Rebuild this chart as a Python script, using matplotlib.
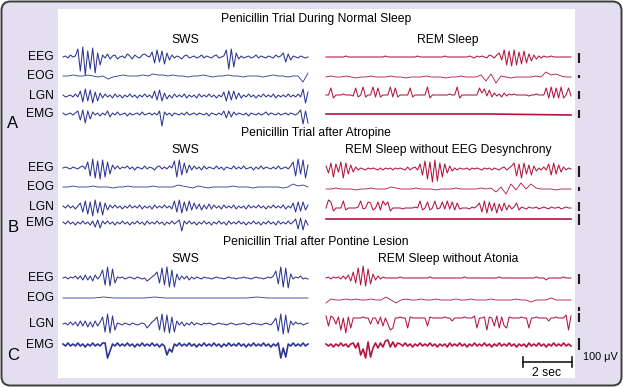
"""
Penicillin trial traces (SWS vs REM) redrawn as a figure.
Each trace is a list of deflections (px, + is up), evenly spread over 10 s.
"""

import numpy as np
import matplotlib.pyplot as plt
from matplotlib.patches import FancyBboxPatch, Rectangle

plt.rcParams["font.family"] = ["Liberation Sans", "DejaVu Sans"]

# ------------------------------
# Trace data
# ------------------------------
channels = ["EEG", "EOG", "LGN", "EMG"]
panel_letters = ["A", "B", "C"]
panel_titles = ["Penicillin Trial During Normal Sleep",
                "Penicillin Trial after Atropine",
                "Penicillin Trial after Pontine Lesion"]
left_titles = ["SWS", "SWS", "SWS"]
right_titles = ["REM Sleep", "REM Sleep without EEG Desynchrony",
                "REM Sleep without Atonia"]

# --- A: normal sleep ---
a_sws_eeg = [0, 1, -1, 2, 0, 1,
             8, -14, 10, -18, 6, -12, 9, -16, 4, -8,
             2, -1, 3, -2, 1, 2, -2, 0, 1, -1, 3, 1, -2, 2, 0, -1, 2, 3, 1, 0,
             5, -6, 7, -5, 6, -7, 4, -3,
             2, -1, 1, 0, -2, 1, 2, -1, 0, 1, -1, 0, 2, -1, 1, 0, -1, 1, 2, -1, 0, 1,
             7, -12, 8, -10, 4,
             -2, 1, -1, 0, 1, -1, 0, 2, -1, 1, 0, -1, 1, 0, -1, 2, 0, 1,
             4, -5, 3, -3,
             1, 0, -1, 1, 0, -1, 0]
a_sws_eog = [0, 0, 1, 0, 0, 1, 0, -1, 0,
             -3, -1,
             0, 1, 0, 0, 0, 1, 0, 2,
             1, 1, 0, 1, 0, 0, -1, 0, 0, 1, 0, -1, 0, 0, 1, 0, 0, -1, 0, 0, 0, -1,
             0, 1, 0, 0, -1, 0, 0,
             -6, 3]
a_sws_lgn = [1, -1, 0, 1, -1, 2, -1,
             5, -6, 7, -5, 6, -7, 4, -5, 3,
             -2, 2, -1, 1, -2, 2, -1, 1, -2, 1, -1, 2, -1, 1, -2, 1, -1, 2, -1, 1, -2,
             5, -4, 6, -5, 3, -3,
             1, -2, 2, -1, 1, -1, 2, -2, 1, -1, 1, -2, 2, -1, 1, -1, 2, -1, 1, -2, 1, -1,
             4, -5, 5, -4, 5, -3, 3, -2,
             1, -1, 2, -1, 1, -2, 1, -1, 2, -1, 1, -1, 2, -2, 1, -1, 1, -1, 2, -1, 1, -1, 2, -1,
             7, -7, 4]
a_sws_emg = [1, -1, 0, 1, -1, 1,
             3, -6, 4, -9, 3, -5, 2,
             -1, 1, -2, 1, -1,
             3, -3,
             1, -1, 2, -1, 0, 1, -2, 1, -1, 0, 1, -1, 2, -1, 0, 1, -1, 1, -1,
             3, -12, 2,
             -1, 1, -2, 1, 0, -1, 1, -1, 2, -1, 0, 1, -1, 1, 0, -1, 1, -2, 1, 0, -1, 1, -1,
             3, -4, 3, -3, 2,
             -1, 1, 0, -1, 1, -2, 1, 0, -1, 1, -1, 0, 2, -1, 1, 0, -1, 1, -1, 0, 1, -1, 1, 0, -1, 1,
             4, -10, 3, -9]

a_rem_eeg = [0, 0, 0, 0, 0, 0, 0, 0, 1, 0, 0, 0, 0, 0, 0, 0, 0, 0, 0, 0,
             0, 0, 0, 0, 1, 0, 0, 0, 0, 0, 0, 0, 0, 0, 0, 0, 0, 1, 0, 0,
             0, 0, 0, 0, 0, 0, 0, 0, 1, 0, 0, 0, 0, 0, 0, 0, 0, 0, 1, 0,
             -1, 1, 0, 1, 0, -1, 2, 1, -1, 2,
             4, -3, 7, -8, 6, -9, 7, -8, 5, -7, 6, -6, 3, -4,
             2, -2, 1, -1, 1, 0, 0, 1, 0, 0, 0, 0, 0, 0, 0, 0]
a_rem_eog = [0, 1, 0, 0, 1, 0, -1, 0, 0, 1, 0, 0, 0, 1, 0, 0, -1, 0, 0, 0,
             1, 0, 0, 0, -1, 0, 0, 1, 0, 0, 0,
             2, -4, 3, -6, 1,
             0, -1, 0, 0, 0, 0, 1, 0,
             5, 2, 3, 1,
             0, 0]
a_rem_lgn = [0, 0, 7, -3, 0, 0, 0, 1, 0, 0, 0, -1, 7, -2, 0, 8, -2, 0, 0, 8,
             -2, 7, -2, 0, 0, 0, 8, -2, 7, -2, 0, 0, 0, 0, 7, -2, 0, 0, 0, 0,
             0, 8, -3, 0, 0, 0, 0, 0, 0, 0, 1, 0, 0, 8, -3, 0, 0, 0, 0, 0,
             0, 0, 7, 2, 6, -1, 5, -2, 2, -1, 1, -2, 2, -1, 1,
             0, 1, 0, 0, 0, 0, 0, -1, 0, 0, 1, 0, 0, 0,
             7, -3, 8, -3, 7, -3, 8, -3, 0, 7, -1]
a_rem_emg = [0, 0, 0, -1]

# --- B: after atropine ---
b_sws_eeg = [0, 1, 0, -1, 1, 0, -1, 1, 2, -1,
             6, -8, 9, -10, 7, -11, 8, -9, 6, -6, 3,
             -1, 2, -1, 1, 0, 2, -1, 1, -2, 1, 0, -1, 2, -1, 1, 0, -2, 1, 2, -1, 1, -1, 2, 0,
             7, -9, 8, -7, 5, -5, 3, -2,
             2, -1, 1, -2, 2, -1, 1, 0, -1, 2, -1, 1, -2, 1, 0, -1, 2, -1, 1, -1,
             2, -1, 0, 1, -2, 1, -1, 2, -1, 1, 0, -1, 1, -1, 2, -1, 0, 1, -1, 2,
             6, -8, 9, -6, 8, -10, 3]
b_sws_eog = [0, 0, 1, 0, 0, 0, 1, 0, 0, 0, -1, 0, 0, 1, 0, 0, 0, 0, 1, 0, 0, 0, 0,
             2, 1, 0, -1, 1,
             0, -1, 0, 0, 0, 0, 1, 0, 0, 0, -1, 0, 0, 0, 0, 0, -1, 0,
             3, 1, 2, 0]
b_sws_lgn = [1, -1, 2, -1, 1, -2, 1,
             4, -5, 6, -7, 5, -9, 7, -6, 5, -8, 4, -3, 2,
             -1, 2, -1, 1, -2, 1, -1, 2, -1, 1, -1, 2, -2, 1, -1, 1, -2, 2, -1, 1, -1, 2, -1, 1, -2,
             6, -5, 7, -6, 5, -4, 6, -3, 4,
             -2, 3, -3, 2, -2, 3, -2, 2, -1,
             1, -2, 2, -1, 1, -1, 2, -2, 1, -1, 1, -2, 2, -1, 1, -1, 2, -1, 1, -2,
             1, -1, 2, -1, 1, -1, 2, -2, 1, -1,
             4, -5, 5, -4, 5, -3, 2]
b_sws_emg = [1, -1, 2, -1, 1, -2, 1, -1, 2, -1, 1, -2,
             2, -4, 3, -5, 2,
             -1, 2, -1, 1, -2, 1, -1, 2, -1, 1, -2, 1, -1, 2, -1, 1, -2, 2, -1, 1,
             -1, 2, -1, 1, -2, 1, -1, 2, -1, 1,
             3, -8, 2,
             -1, 2, -1, 1, -2, 1, -1, 2, -1, 1, -2, 1, -1, 2, -1, 1, -2, 2, -1, 1,
             -1, 2, -1, 1, -2, 1, -1, 2, -1, 1, -2, 1, -1, 2, -1, 1, -2, 2, -1, 1,
             -1, 2, -1, 1,
             4, -6, 5, -7, 3, -2]

b_rem_eeg = [3, -4, 6, -8, 5, -3, 7, -9, 6, -5, 4, -3, 2,
             -1, 1, 0, -1, 1, 0, 1, 0, -1, 1, -1, 1, 0, 1, -1, 1, 0, 1, 0, -1, 2, -1, 1, 2, -1,
             5, -6, 8, -10, 7, -13, 9, -12, 6, -8, 5, -4, 3, -2,
             1, -1, 1, 0, 0, 1, -1, 1, 0, 1, 0, -1, 1, 0, 1, -1, 1, 0, -1, 1, 2, -1, 1, 3,
             6, -7, 5, -9, 6, -5, 4, -6, 3, -2,
             1, -1, 2, -1,
             5, -6, 6, -5, 4, -3, 2,
             -1, 1, 0]
b_rem_eog = [0, 0, 1, 0, 0, 0, -1, 0, 0, 1, 0, 0, 0,
             2, 1,
             0, 0, 0, 1, 0, 0, 0, -1, 0, 0, 0, 1, 0, 0, 0, 0, 1, 0,
             1, -3, 2, -5, 5, -1, 6, 0, 5, 1, 0,
             0, 0, -1, 0, 0, 0]
b_rem_lgn = [0, 8, 6, -3, 0, 0, 0, 7, -2, 0, 0, 0, 0, 1, 7, -1, 0, 6, 5, -2,
             0, 6, -2, 7, 3, 6, -3, 0, 0, 0, 0, -1, 0, 0, 0, 0, 1, 0, 7, -2,
             0, 6, -2, 0, 7, -1, 0, 6, -1, 7, -1, 6, -2, 5, -1, 0, 0, 0, -1, 1,
             0, 2, 5, -4, 7, -5, 6, -3, 5, -5, 4, -3, 5, -2, 3, -1, 1, 5, -2, 1,
             0, -1, 1, 0, 0, 1, -1, 0, 1, 0, -1, 1, 0, 0, 1, -1, 0, 1, 0, 0]
b_rem_emg = [0, 0, 0]

# --- C: after pontine lesion ---
c_sws_eeg = [0, 1, -1, 1, 0, 2, -1, 2, -2, 3, -2, 2, -3, 3, -1, 2,
             8, -7, 11, -8, 9, -5,
             1, 0, 1, -1, 0, 1, 0, -1, 1, 0, -1, 0, -3, -1, 1,
             3, 6, -5, 10, -7, 11, -9, 8, -9, 4,
             -2, 2, -1, 2, -2, 1, -1, 1, 0, -1, 1, 0, 0, -1,
             0, 1, 0, 0, -1, 0, 1, 0, 0, -1, 0, 0, 1, 0, 0, -1, 0, 1, 0, 0, -1, 0, 1, 0, 2,
             7, -6, 11, -9, 10, -10, 4,
             -1, 1, 0, 2, -1, 0, -1]
c_sws_eog = [0, 0, 0, 0, 1, 0, 0, 0, 0, 1, 0, 0, 0, 0, 0, 0, 0, 0, 0, 1, 0, 0, 0, 0, 0]
c_sws_lgn = [0, 1, -1, 2, -1, 2, -2, 3, -2, 3, -3, 2, -3, 3, -2, 2,
             7, -8, 10, -9, 8, -6,
             1, 0, -1, 1, 0, -1, 1, 0, -1, 0, 1, 0, -4, -1, 2,
             4, 7, -6, 10, -8, 9, -9, 7, -8, 3,
             -1, 2, -2, 1, -1, 2, -1, 1, 0, -1, 1, 0, 1, 0,
             -1, 0, 1, 0, 0, -1, 0, 1, 0, -1, 0, 0, 1, 0, -1, 0, 1, 0, 0, -1, 0, 1, 0, -1, 2,
             6, -7, 10, -10, 9, -9, 3,
             -1, 2, 0, 1, -1, 0, 1]
c_sws_emg = [1, -1, 2, -1, 1, -1, 2, -1, 1, -2, 1, -1, 2, -1, 1, -1, 2, 2, -13, -6,
             1, -1, 2, -1, 1, -1, 2, -1, 1, -2, 1, -1, 2, -1, 1, -1, 2, -1, 1, -2,
             1, -1, -10, -4, -7, 1, -1, 2, -1, 1, -1, 2, -1, 1, -2, 1, -1, 2, -1, 1,
             -1, 2, -1, 1, -2, 1, -1, 2, -1, 1, -1, 2, -1, 1, -2, 1, -1, 2, -1, 1,
             -1, 2, -1, 1, -2, 1, -1, 2, -13, -3, -12, 1, -1, 2, -1, 1, -1, 2, -1, 1]

c_rem_eeg = [0, 1, -1, 1, 0, 1, -1, 2, -1, 3,
             -3, 6, -5, 10, -7, 12, -8, 9, -6, 4,
             -2, 2, -1, 1,
             0, 0, 0, 0, 0, 0, 1, 0, 0, 0, 0, 0, 0, 0, 0, 0, 0, 0, 1, 0,
             0, 0, 0, 0, 0, 0, 0, 0, 0, 0, 0, 0, 1, 0, 0, 0, 0, 0, 0, 0,
             0, 0, 0, 0, 0, 0, 1, 0, 0, 0, 0, 0, 0, 0, 0, 0, 0, 0, 0, 0,
             0, 1, 0, 0, 0, -2, 0, 0, 0, 0, 0, 0, 1, 0, 0, 0]
c_rem_eog = [-3, 1, 0, 0, 1, 0, 1, 0, 0, 1, 0, 0,
             3, 0, -3, 0,
             1, 0, 0, 1, 0, 0, 1, 0, 0, 0, 1, 0, 0, 1, 0, 0, 0, 1, 0, 0, 0, 0, 1, 0, 0,
             -2, 0, 0, 0, 2, 0, 0, 0, 0]
c_rem_lgn = [2, -8, 2, 0, -6, 1, -12, 0, -15, 1, -10, 0, 0, 0, 0, 1, 0, 0, -6, 0,
             0, -6, 1, -8, 0, -6, -12, -10, 0, 0, 1, 0, 0, -10, 1, 0, 0, 0, 0, 0,
             0, -8, 1, 0, 0, 0, 0, 0, 1, 0, 0, -3, 0, 0, 0, 0, 1, 0, 0, 0,
             2, -10, 0, 0, 1, -12, 1, 0, -8, 2, -10, 1, -8, -10, 1, 0, 0, 0, 0, 1,
             0, 0, -10, 0, 0, 1, 0, 0, 0, 0, -3, 0, 0, 1, 0, 0, 0, 3, -12, 2]
c_rem_emg = [1, -1, 1, -2, 1, -1, 2, -1, 1, -2, 1,
             2, -3, 2, -10, -4, -13, 3, -12, -3, 2, -3, 2, -2, 4, 5, -2, 3, -2, 2,
             1, -1, 2, -1, 1, -2, 1, -1, 2, -1, 1, -1, 2, -1, 1, -2, 1, -1, 1, -2,
             2, -1, 1, -1, 2, -1, 1, -2, 1, -1, 2, -1, 1, -1, 2, -1, 1, -2, 1, -1,
             2, -1, 1, -1, 2, -1, 1, -2, 1, -1, 1, -2, 2, -1, 1, -1, 2, -1, 1, -2,
             1, -1, 2, -1, 1, -1, 2, -1, 1, -1]

sws_traces = [[a_sws_eeg, a_sws_eog, a_sws_lgn, a_sws_emg],
              [b_sws_eeg, b_sws_eog, b_sws_lgn, b_sws_emg],
              [c_sws_eeg, c_sws_eog, c_sws_lgn, c_sws_emg]]
rem_traces = [[a_rem_eeg, a_rem_eog, a_rem_lgn, a_rem_emg],
              [b_rem_eeg, b_rem_eog, b_rem_lgn, b_rem_emg],
              [c_rem_eeg, c_rem_eog, c_rem_lgn, c_rem_emg]]

# ------------------------------
# Layout (pixel coordinates, y down)
# ------------------------------
W, H = 623, 387
LAVENDER = "#e4dff0"
BLUE = "#2c3592"
RED = "#b3143f"

SWS_X = (63, 308)
REM_X = (326, 571)
BAR_X = 579

title_y = [19, 133, 242]
sub_y = [40, 150, 259]
letter_y = [123, 228, 355]
sws_base = [[57, 76, 96, 114], [168, 187, 207, 223], [278, 298, 324, 345]]
rem_base = [[57, 77, 95, 114], [169, 189, 208, 219], [278, 300, 318, 345]]
bars = [[(53, 63), (75, 78), (91, 99), (110, 118)],
        [(166, 177), (187, 191), (202, 211), (214, 225)],
        [(274, 284), (307, 311), (313, 322), (338, 350)]]

FS = 8.7

# ------------------------------
# Draw
# ------------------------------
fig = plt.figure(figsize=(W / 100, H / 100), dpi=100)
ax = fig.add_axes([0, 0, 1, 1])
ax.set_xlim(0, W)
ax.set_ylim(H, 0)
ax.axis("off")

ax.add_patch(FancyBboxPatch((1.5, 1.5), W - 3, H - 3,
                            boxstyle="round,pad=0,rounding_size=9",
                            fc=LAVENDER, ec="#3c3c3c", lw=1.4))
ax.add_patch(Rectangle((58, 9), 517, 369, fc="white", ec="none"))


def draw_trace(values, x_range, base, color, lw):
    v = np.asarray(values, dtype=float)
    xs = np.linspace(x_range[0], x_range[1], len(v))
    ax.plot(xs, base - v, color=color, lw=lw)


for p in range(3):
    ax.text(316, title_y[p], panel_titles[p], ha="center", va="center", fontsize=FS)
    ax.text(185, sub_y[p], left_titles[p], ha="center", va="center", fontsize=FS)
    ax.text(448, sub_y[p], right_titles[p], ha="center", va="center", fontsize=FS)
    ax.text(13, letter_y[p], panel_letters[p], ha="center", va="center", fontsize=12)

    for c, name in enumerate(channels):
        ax.text(54, sws_base[p][c], name, ha="right", va="center", fontsize=FS)
        lw = 0.6 if name == "EOG" else 0.75
        if p == 2 and name == "EMG":
            lw = 1.2
        draw_trace(sws_traces[p][c], SWS_X, sws_base[p][c], BLUE, lw)
        rem_lw = 1.2 if (p < 2 and name == "EMG") else lw
        draw_trace(rem_traces[p][c], REM_X, rem_base[p][c], RED, rem_lw)

        y0, y1 = bars[p][c]
        ax.plot([BAR_X, BAR_X], [y0, y1], color="#1a1a1a", lw=1.5, solid_capstyle="butt")

# time / amplitude calibration
ax.plot([523, 572], [362, 362], color="#1a1a1a", lw=1.2)
ax.plot([523, 523], [357, 367], color="#1a1a1a", lw=1.2)
ax.plot([572, 572], [357, 367], color="#1a1a1a", lw=1.2)
ax.text(547, 373, "2 sec", ha="center", va="center", fontsize=FS)
ax.text(583, 357, "100 \u03bcV", ha="left", va="center", fontsize=7.8)

fig.savefig("out.png", dpi=100)
